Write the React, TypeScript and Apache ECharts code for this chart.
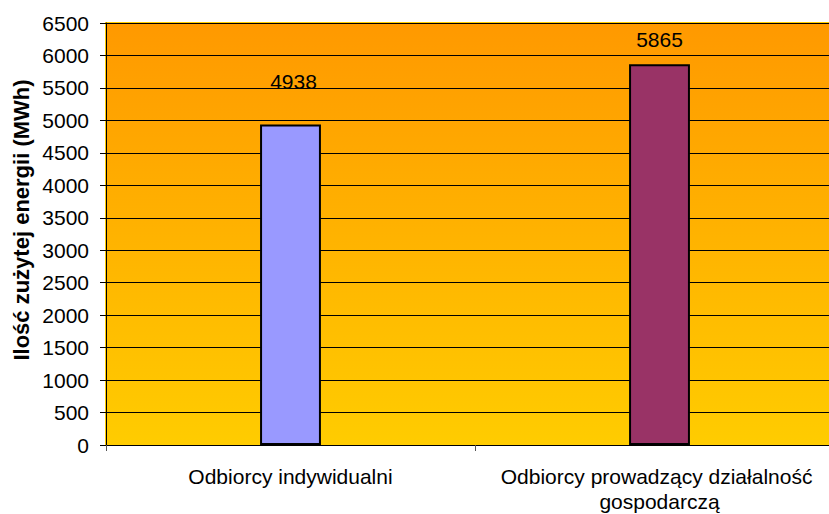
import React, { useEffect, useRef } from "react";
import * as echarts from "echarts";

const categories = ["Odbiorcy indywidualni", "Odbiorcy prowadzący działalność gospodarczą"];
const values = [4938, 5865];
const barColors = ["#9999FF", "#993366"];
const yTitle = "Ilość zużytej energii (MWh)";

const FONT = "Liberation Sans, Arial, sans-serif";

export default function App() {
  const ref = useRef<HTMLDivElement>(null);
  useEffect(() => {
    const chart = echarts.init(ref.current!, null, { renderer: "svg" });
    chart.setOption({
      animation: false,
      grid: {
        left: 106,
        top: 23,
        right: -15,
        bottom: 69,
        outerBoundsMode: "none",
        containLabel: false,
        show: true,
        borderWidth: 2,
        borderColor: "#FFCC00",
        backgroundColor: new echarts.graphic.LinearGradient(0, 0, 0, 1, [
          { offset: 0, color: "#FF9900" },
          { offset: 1, color: "#FFCC00" },
        ]),
      },
      graphic: [
        {
          type: "text",
          x: 21,
          y: 220,
          rotation: Math.PI / 2,
          style: {
            text: yTitle,
            fill: "#000",
            font: `bold 22px ${FONT}`,
            align: "center",
            verticalAlign: "middle",
          },
        },
      ],
      xAxis: {
        type: "category",
        data: categories,
        axisLine: { show: true, lineStyle: { color: "#000", width: 1 } },
        axisTick: { show: true, alignWithLabel: false, length: 6, lineStyle: { color: "#555" } },
        axisLabel: {
          color: "#000",
          fontFamily: FONT,
          fontSize: 21,
          margin: 19,
          width: 372,
          overflow: "break",
          lineHeight: 25,
          interval: 0,
        },
      },
      yAxis: {
        type: "value",
        min: 0,
        max: 6500,
        interval: 500,
        axisLine: { show: true, lineStyle: { color: "#000", width: 1 } },
        axisTick: { show: true, length: 6, lineStyle: { color: "#000" } },
        splitLine: { show: true, lineStyle: { color: "#000", width: 1 } },
        axisLabel: {
          color: "#000",
          fontFamily: FONT,
          fontSize: 21,
          margin: 17,
          formatter: (v: number) => String(v),
        },
      },
      series: [
        {
          type: "bar",
          barWidth: "16.5%",
          data: values.map((v, i) => ({
            value: v,
            itemStyle: { color: barColors[i], borderColor: "#000", borderWidth: 2 },
            label: {
              show: true,
              position: "top",
              distance: i === 0 ? 32 : 14,
              offset: i === 0 ? [3, 0] : [0, 0],
              color: "#000",
              fontFamily: FONT,
              fontSize: 21,
            },
          })),
        },
      ],
    });
    return () => chart.dispose();
  }, []);
  return <div ref={ref} style={{ width: 829, height: 514, position: "absolute", left: 0, top: 0 }} />;
}
